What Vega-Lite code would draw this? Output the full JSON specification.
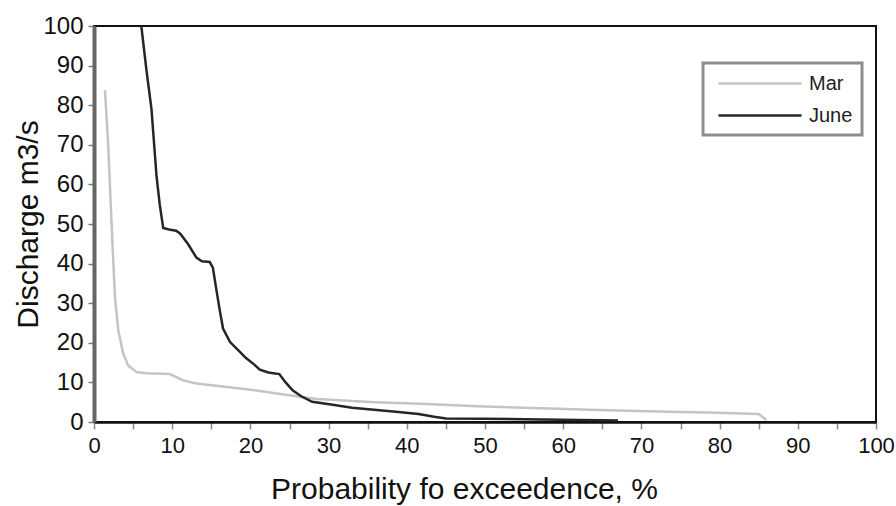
{
  "$schema": "https://vega.github.io/schema/vega-lite/v6.json",
  "width": 782,
  "height": 396,
  "autosize": {"type": "none"},
  "padding": {"left": 94, "top": 26, "right": 20, "bottom": 84},
  "background": "white",
  "config": {
    "font": "Liberation Sans",
    "view": {"stroke": "#111111", "strokeWidth": 2},
    "axis": {"grid": false, "labelColor": "#111111", "titleColor": "#111111", "titleFontWeight": "normal"},
    "legend": {"strokeWidth": 3}
  },
  "data": {
    "values": [
      {"p": 1.4, "q": 83.8, "month": "Mar"},
      {"p": 1.83, "q": 69.4, "month": "Mar"},
      {"p": 2.1, "q": 56.8, "month": "Mar"},
      {"p": 2.38, "q": 44.2, "month": "Mar"},
      {"p": 2.68, "q": 31.6, "month": "Mar"},
      {"p": 3.1, "q": 23.2, "month": "Mar"},
      {"p": 3.73, "q": 17.3, "month": "Mar"},
      {"p": 4.37, "q": 14.3, "month": "Mar"},
      {"p": 5.44, "q": 12.6, "month": "Mar"},
      {"p": 6.7, "q": 12.3, "month": "Mar"},
      {"p": 9.7, "q": 12.1, "month": "Mar"},
      {"p": 11.4, "q": 10.5, "month": "Mar"},
      {"p": 13.1, "q": 9.7, "month": "Mar"},
      {"p": 17.3, "q": 8.8, "month": "Mar"},
      {"p": 20.5, "q": 8.0, "month": "Mar"},
      {"p": 24.5, "q": 6.9, "month": "Mar"},
      {"p": 28.5, "q": 5.8, "month": "Mar"},
      {"p": 33, "q": 5.3, "month": "Mar"},
      {"p": 36, "q": 5.0, "month": "Mar"},
      {"p": 41.8, "q": 4.6, "month": "Mar"},
      {"p": 49, "q": 4.0, "month": "Mar"},
      {"p": 55, "q": 3.6, "month": "Mar"},
      {"p": 64.5, "q": 3.0, "month": "Mar"},
      {"p": 73.4, "q": 2.6, "month": "Mar"},
      {"p": 78.5, "q": 2.4, "month": "Mar"},
      {"p": 85, "q": 2.0, "month": "Mar"},
      {"p": 86, "q": 0.5, "month": "Mar"},
      {"p": 6.05, "q": 100, "month": "June"},
      {"p": 6.7, "q": 89, "month": "June"},
      {"p": 7.35, "q": 79, "month": "June"},
      {"p": 8.0, "q": 62, "month": "June"},
      {"p": 8.4, "q": 55, "month": "June"},
      {"p": 8.85, "q": 49, "month": "June"},
      {"p": 9.6, "q": 48.6, "month": "June"},
      {"p": 10.5, "q": 48.3, "month": "June"},
      {"p": 11, "q": 47.6, "month": "June"},
      {"p": 12, "q": 45, "month": "June"},
      {"p": 13.1, "q": 41.5, "month": "June"},
      {"p": 13.8, "q": 40.6, "month": "June"},
      {"p": 14.8, "q": 40.4, "month": "June"},
      {"p": 15.2, "q": 39, "month": "June"},
      {"p": 15.6, "q": 34, "month": "June"},
      {"p": 16.1, "q": 28, "month": "June"},
      {"p": 16.5, "q": 23.6, "month": "June"},
      {"p": 17.4, "q": 20.2, "month": "June"},
      {"p": 18.5, "q": 18, "month": "June"},
      {"p": 19.4, "q": 16.2, "month": "June"},
      {"p": 20.5, "q": 14.5, "month": "June"},
      {"p": 21.2, "q": 13.2, "month": "June"},
      {"p": 22.3, "q": 12.5, "month": "June"},
      {"p": 23.7, "q": 12.1, "month": "June"},
      {"p": 24.5, "q": 10, "month": "June"},
      {"p": 25.4, "q": 8, "month": "June"},
      {"p": 26.5, "q": 6.5, "month": "June"},
      {"p": 27.9, "q": 5.1, "month": "June"},
      {"p": 30.1, "q": 4.5, "month": "June"},
      {"p": 33, "q": 3.6, "month": "June"},
      {"p": 38.6, "q": 2.6, "month": "June"},
      {"p": 41.5, "q": 2.0, "month": "June"},
      {"p": 43.5, "q": 1.3, "month": "June"},
      {"p": 45, "q": 0.9, "month": "June"},
      {"p": 50, "q": 0.8, "month": "June"},
      {"p": 55, "q": 0.7, "month": "June"},
      {"p": 67, "q": 0.4, "month": "June"}
    ]
  },
  "mark": {"type": "line", "strokeWidth": 2.5, "clip": true, "interpolate": "linear"},
  "encoding": {
    "x": {
      "field": "p",
      "type": "quantitative",
      "scale": {"domain": [0, 100], "nice": false, "zero": false},
      "axis": {
        "title": "Probability fo exceedence, %",
        "values": [0, 5, 10, 15, 20, 25, 30, 35, 40, 45, 50, 55, 60, 65, 70, 75, 80, 85, 90, 95, 100],
        "labelExpr": "datum.value % 10 === 0 ? datum.label : ''",
        "labelFontSize": 22,
        "labelPadding": 6,
        "labelFlush": false,
        "labelOverlap": false,
        "tickSize": 7,
        "tickWidth": 1.5,
        "tickColor": "#8a8a8a",
        "domainColor": "#111111",
        "domainWidth": 2.5,
        "titleFontSize": 30,
        "titleX": 370,
        "titleY": 76,
        "titleBaseline": "alphabetic",
        "titleAlign": "center"
      }
    },
    "y": {
      "field": "q",
      "type": "quantitative",
      "scale": {"domain": [0, 100], "nice": false},
      "axis": {
        "title": "Discharge m3/s",
        "values": [0, 10, 20, 30, 40, 50, 60, 70, 80, 90, 100],
        "labelFontSize": 24,
        "labelPadding": 5,
        "labelFlush": false,
        "labelOverlap": false,
        "tickSize": 6,
        "tickWidth": 1.5,
        "tickColor": "#7a7a7a",
        "domainColor": "#666666",
        "domainWidth": 4,
        "titleFontSize": 30,
        "titleAngle": -90,
        "titleX": -66,
        "titleY": 198,
        "titleAlign": "center",
        "titleBaseline": "middle"
      }
    },
    "color": {
      "field": "month",
      "type": "nominal",
      "sort": ["Mar", "June"],
      "scale": {"domain": ["Mar", "June"], "range": ["#c4c4c4", "#262626"]},
      "legend": {
        "title": null,
        "orient": "none",
        "legendX": 609,
        "legendY": 37,
        "padding": 9,
        "strokeColor": "#8e8e8e",
        "fillColor": "white",
        "symbolType": "M-0.5,0L7.8,0",
        "symbolSize": 400,
        "symbolStrokeWidth": 2.5,
        "labelOffset": 74,
        "labelFontSize": 20,
        "labelColor": "#222222",
        "rowPadding": 10
      }
    }
  }
}
